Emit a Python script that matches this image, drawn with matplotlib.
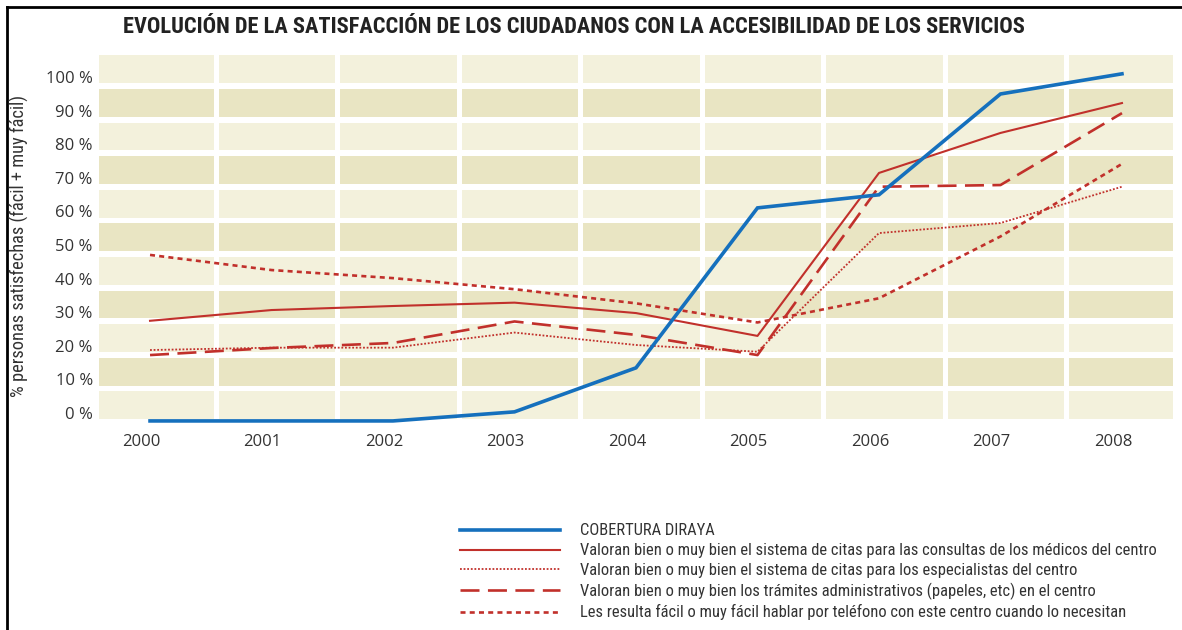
# -*- coding: utf-8 -*-
"""
Evolución de la satisfacción de los ciudadanos con la accesibilidad de los servicios.
"""
import matplotlib
matplotlib.use('Agg')
import matplotlib.pyplot as plt
import matplotlib.transforms as mtransforms
from matplotlib import font_manager
from matplotlib.lines import Line2D

years = [2000, 2001, 2002, 2003, 2004, 2005, 2006, 2007, 2008]

diraya = [0, 0, 0, 2.7, 15.8, 63.4, 67.3, 97.3, 103.3]
citas_medicos = [29.8, 33.0, 34.2, 35.2, 32.1, 25.3, 73.8, 85.7, 94.6]
citas_especialistas = [21.1, 21.8, 21.8, 26.3, 22.6, 20.6, 55.9, 58.9, 69.7]
tramites = [19.6, 21.7, 23.2, 29.6, 25.6, 19.6, 69.7, 70.2, 91.6]
telefono = [49.4, 44.9, 42.5, 39.2, 35.0, 29.3, 36.5, 54.9, 76.5]

labels = [
    'COBERTURA DIRAYA',
    'Valoran bien o muy bien el sistema de citas para las consultas de los médicos del centro',
    'Valoran bien o muy bien el sistema de citas para los especialistas del centro',
    'Valoran bien o muy bien los trámites administrativos (papeles, etc) en el centro',
    'Les resulta fácil o muy fácil hablar por teléfono con este centro cuando lo necesitan',
]
yticks = [0, 10, 20, 30, 40, 50, 60, 70, 80, 90, 100]

title = 'EVOLUCIÓN DE LA SATISFACCIÓN DE LOS CIUDADANOS CON LA ACCESIBILIDAD DE LOS SERVICIOS'
ylabel = '% personas satisfechas (fácil + muy fácil)'

BLUE = '#1570bd'
RED = '#c1302b'
LIGHT = '#f3f1dc'
DARK = '#e9e5c3'
TXT = '#333333'

installed = {f.name for f in font_manager.fontManager.ttflist}
narrow = 'DejaVu Sans'
for name in ['Roboto Condensed', 'Liberation Sans Narrow', 'Roboto']:
    if name in installed:
        narrow = name
        break
body = 'Open Sans' if 'Open Sans' in installed else 'DejaVu Sans'

fig = plt.figure(figsize=(11.82, 6.3), dpi=100)
ax = fig.add_axes([99 / 1182, 1 - 430 / 630, 1074 / 1182, 375 / 630])
ax.set_xlim(1999.58, 2008.42)
ax.set_ylim(-2.7, 108.9)

# banded background with white gaps
for k in range(11):
    lo = 10 * k + 0.5
    hi = min(10 * k + 8.8, 108.9)
    ax.axhspan(lo, hi, color=LIGHT if k % 2 == 0 else DARK, lw=0, zorder=0)
for yr in years[:-1]:
    ax.axvline(yr + 0.54, color='white', lw=3.6, zorder=1)

ax.plot(years, diraya, color=BLUE, lw=2.6, zorder=5,
        solid_joinstyle='miter', label=labels[0])
ax.plot(years, citas_medicos, color=RED, lw=1.5, zorder=4, label=labels[1])
ax.plot(years, citas_especialistas, color=RED, lw=1.3, zorder=4,
        dashes=(1.0, 1.0), label=labels[2])
ax.plot(years, tramites, color=RED, lw=1.9, zorder=4,
        dashes=(7.2, 3.2), label=labels[3])
ax.plot(years, telefono, color=RED, lw=1.9, zorder=4,
        dashes=(1.9, 1.6), label=labels[4])

for s in ax.spines.values():
    s.set_visible(False)
ax.set_xticks(years)
ax.set_xticklabels([str(y) for y in years])
ax.set_yticks(yticks)
ax.set_yticklabels(['%d %%' % v for v in yticks])
ax.tick_params(length=0, colors=TXT, labelsize=12)
ax.tick_params(axis='y', pad=4.5)
ax.tick_params(axis='x', pad=3)
for lab in ax.get_yticklabels():
    lab.set_fontfamily(body)
    lab.set_transform(lab.get_transform() +
                      mtransforms.ScaledTranslation(0, 0.08, fig.dpi_scale_trans))
for lab in ax.get_xticklabels():
    lab.set_fontfamily(body)
    lab.set_transform(lab.get_transform() +
                      mtransforms.ScaledTranslation(-0.09, 0, fig.dpi_scale_trans))

ylab_txt = fig.text(19 / 1182, 1 - 246 / 630, ylabel, rotation=90, ha='center',
                    va='center', fontsize=11.5, color=TXT, family=narrow)

title_txt = fig.text(123 / 1182, 1 - 27 / 630, title, ha='left', va='center',
                     fontsize=13.5, fontweight='bold', color='#222222', family=narrow)

leg = fig.legend(loc='upper left', bbox_to_anchor=(460 / 1182, 1 - 523 / 630),
                 frameon=False, borderpad=0, borderaxespad=0,
                 handlelength=6.7, handletextpad=1.35, labelspacing=0.32,
                 prop={'family': narrow, 'size': 10.7})
for t in leg.get_texts():
    t.set_color(TXT)

# squeeze title / legend / ylabel text to the widths seen in the original
fig.canvas.draw()
r = fig.canvas.get_renderer()
w = title_txt.get_window_extent(r).width
title_txt.set_fontsize(title_txt.get_fontsize() * 910 / w)
h = ylab_txt.get_window_extent(r).height
ylab_txt.set_fontsize(ylab_txt.get_fontsize() * 303 / h)
w = leg.get_texts()[1].get_window_extent(r).width
for t in leg.get_texts():
    t.set_fontsize(t.get_fontsize() * 580 / w)

# frame lines (left and top)
fig.add_artist(Line2D([7 / 1182, 7 / 1182], [0, 1 - 7 / 630],
                      transform=fig.transFigure, color='black', lw=2))
fig.add_artist(Line2D([7 / 1182, 1], [1 - 7 / 630, 1 - 7 / 630],
                      transform=fig.transFigure, color='black', lw=2))

fig.savefig('out.png', dpi=100)
